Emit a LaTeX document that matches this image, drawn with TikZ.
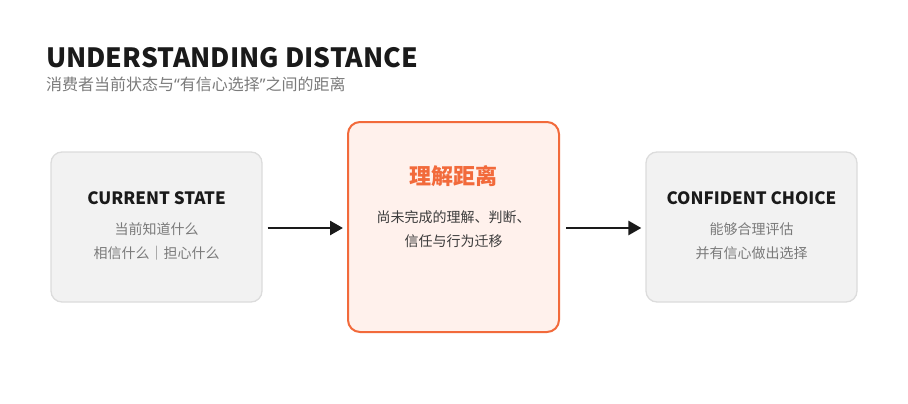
\documentclass[tikz,border=0pt]{standalone}
\usepackage{fontspec}
\setmainfont{Noto Sans CJK SC}
\newfontfamily\latinq{Noto Sans}
\usetikzlibrary{arrows.meta}
\definecolor{ink}{HTML}{1A1A1A}
\definecolor{greytext}{HTML}{7A7A7A}
\definecolor{boxfill}{HTML}{F2F2F2}
\definecolor{boxline}{HTML}{DCDCDC}
\definecolor{orangeline}{HTML}{F26A3B}
\definecolor{orangefill}{HTML}{FFF1EC}
\tikzset{
  sidebox/.style={draw=boxline, fill=boxfill, line width=1.3pt, rounded corners=11pt, minimum width=211pt, minimum height=150pt},
  midbox/.style={draw=orangeline, fill=orangefill, line width=2pt, rounded corners=12pt, minimum width=211pt, minimum height=210pt},
  boxtitle/.style={font=\fontsize{17}{20}\selectfont\bfseries, text=ink},
  boxbody/.style={font=\fontsize{14}{24}\selectfont, text=greytext, align=center},
  flow/.style={-{Triangle[length=13pt,width=14pt]}, line width=2.7pt, draw=ink}
}
\begin{document}
\begin{tikzpicture}[x=1pt,y=-1pt]
\useasboundingbox (0,0) rectangle (908,404);
\node[anchor=base west, font=\fontsize{26.5}{30}\selectfont\bfseries, text=ink, inner sep=0pt] (title) at (46,67) {UNDERSTANDING DISTANCE};
\node[anchor=base west, font=\fontsize{16}{18}\selectfont, text=greytext, inner sep=0pt] (sub) at (46,90) {消费者当前状态与{\latinq “}有信心选择{\latinq ”}之间的距离};

\node[sidebox] (left) at (156.5,227) {};
\node[midbox] (mid) at (453.5,227) {};
\node[sidebox] (right) at (751.5,227) {};

\node[boxtitle] (lt) at (156.5,198) {CURRENT STATE};
\node[boxbody] (lb) at (156.5,241) {当前知道什么\\相信什么｜担心什么};

\node[font=\fontsize{22}{26}\selectfont\bfseries, text=orangeline] (mt) at (453.5,176) {理解距离};
\node[font=\fontsize{14}{24}\selectfont, text=ink!85, align=center] (mb) at (453.5,229) {尚未完成的理解、判断、\\信任与行为迁移};

\node[boxtitle] (rt) at (751.5,198) {CONFIDENT CHOICE};
\node[boxbody] (rb) at (751.5,241) {能够合理评估\\并有信心做出选择};

\draw[flow] ([xshift=5pt,yshift=-1pt]left.east) -- ([xshift=-4pt,yshift=-1pt]mid.west);
\draw[flow] ([xshift=6pt,yshift=-1pt]mid.east) -- ([xshift=-4pt,yshift=-1pt]right.west);
\end{tikzpicture}
\end{document}
